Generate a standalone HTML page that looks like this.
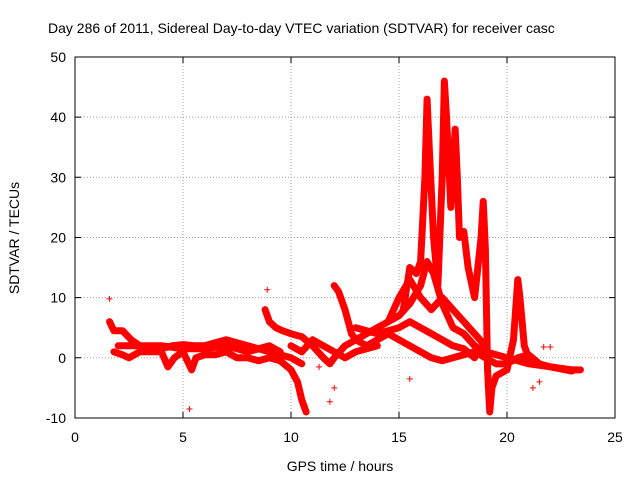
<!DOCTYPE html>
<html><head><meta charset="utf-8"><style>
body{margin:0;background:#fff}
svg{display:block;font-family:"Liberation Sans",sans-serif}
</style></head><body>
<svg id="chart" width="640" height="480">
<text x="48" y="33" font-size="14">Day 286 of 2011, Sidereal Day-to-day VTEC variation (SDTVAR) for receiver casc</text>
<g id="grid"></g>
<g id="marks"></g>
<rect x="75" y="57" width="540" height="361" fill="none" stroke="#000"/>
<g id="axes"></g>
<text x="340" y="471" font-size="14" text-anchor="middle">GPS time / hours</text>
<text transform="translate(19,238) rotate(-90)" font-size="14" text-anchor="middle">SDTVAR / TECUs</text>
</svg>
<script>
const xTicks=[0,5,10,15,20,25];
const yTicks=[-10,0,10,20,30,40,50];
const s1=[[1.6,6],[1.8,4.5],[2.2,4.5],[2.6,3],[3,2],[3.5,1.5],[4,1.5],[4.5,2],[5,2.2],[5.5,2],[6,2],[6.5,2.5],[7,3],[7.5,2.5],[8,2],[8.5,1.5],[9,1],[9.5,0.5],[10,0],[10.5,-1]];
const s2=[[1.8,1],[2.2,0.5],[2.5,0],[3,1],[3.5,1],[4,1],[4.3,-1.5],[4.6,0],[5,1],[5.4,-2],[5.6,0],[6,0.5],[6.5,0.5],[7,1],[7.5,0],[8,0],[8.5,-0.5],[9,0],[9.5,-0.5],[10,-2],[10.3,-4],[10.5,-7],[10.7,-9]];
const s3=[[8.8,8],[9,6],[9.3,5],[9.6,4.5],[10,4],[10.5,3.5],[11,2],[11.5,0],[11.8,-1],[12,0],[12.5,2],[13,3],[13.5,4],[14,5],[14.5,6],[15,7],[15.5,9],[16,12],[16.3,16],[16.6,14],[17,9],[17.5,5],[18,4],[18.5,2],[19,1],[19.5,0.5],[20,0],[20.5,-0.5],[21,-1],[22,-1.5],[23,-2],[23.4,-2]];
const s4=[[15.2,8],[15.5,15],[15.8,14],[16,16],[16.2,30],[16.3,43],[16.4,35],[16.6,20],[16.8,12],[17,30],[17.1,46],[17.2,40],[17.4,25],[17.6,38],[17.7,30],[17.8,20],[18,21],[18.2,15],[18.5,10],[18.8,20],[18.9,26],[19,18],[19.1,-2],[19.2,-9],[19.3,-5],[19.5,-3],[20,-2],[20.3,3],[20.5,13],[20.6,10],[20.8,2],[21,0]];
const s5=[[12,12],[12.2,11],[12.5,8],[12.8,4],[13,3],[13.5,2],[14,3],[14.5,4],[15,3]];
const s6=[[15,3],[15.5,2],[16,1],[16.5,0],[17,-0.5],[17.5,0],[18,0.5],[18.5,1],[19,0],[19.5,-1],[20,-1],[20.5,0],[21,0.5],[21.5,-1],[22,-1.5],[23,-2.2]];
const s7=[[14.5,6],[15,10],[15.5,13],[16,10],[16.5,8],[17,10],[17.5,8],[18,6],[18.5,4],[19,2]];
const s8=[[13,5],[14,4],[15,5],[15.5,6],[16,5],[16.5,4],[17,3],[17.5,2],[18,1.5],[18.5,0]];
const s9=[[10,2],[10.5,1],[11,3],[11.5,2],[12,1],[12.5,0],[13,1],[14,2]];
const s10=[[2,2],[3,2],[4,2],[5,1.5],[6,1.5],[7,2],[8,1],[9,2],[9.5,1]];
const outliers=[[1.6,9.8],[5.3,-8.5],[8.9,11.3],[11.8,-7.3],[11.3,-1.5],[12,-5],[15.5,-3.5],[21.5,-4],[21.2,-5],[22,1.8],[21.7,1.8]];
const X=v=>75+v*21.6, Y=v=>357.8-v*6.017;
const NS="http://www.w3.org/2000/svg";
const grid=document.getElementById('grid'), axes=document.getElementById('axes'), marks=document.getElementById('marks');
function mk(tag,attrs,parent){const e=document.createElementNS(NS,tag);for(const k in attrs)e.setAttribute(k,attrs[k]);parent.appendChild(e);return e;}
xTicks.forEach(t=>{
  if(t>0&&t<25){const l=mk('line',{x1:X(t),x2:X(t),y1:57,y2:418,stroke:'#a0a0a0','stroke-dasharray':'1,2'},grid);
  
  }
  const tk=mk('path',{d:`M${X(t)},418v-6M${X(t)},57v6`,stroke:'#000'},axes);
  
  
  const tx=mk('text',{x:X(t),y:442,'font-size':14,'text-anchor':'middle'},axes);tx.textContent=t;
  
  
});
yTicks.forEach(t=>{
  if(t>-10&&t<50){const l=mk('line',{x1:75,x2:615,y1:Y(t),y2:Y(t),stroke:'#a0a0a0','stroke-dasharray':'1,2'},grid);
  
  }
  const tk=mk('path',{d:`M75,${Y(t)}h6M615,${Y(t)}h-6`,stroke:'#000'},axes);
  
  
  const tx=mk('text',{x:66,y:Y(t)+5,'font-size':14,'text-anchor':'end'},axes);tx.textContent=t;
  
  
});
const tracks=[s1,s2,s3,s4,s5,s6,s7,s8,s9,s10];
tracks.forEach((s,i)=>{
  const pl=mk('polyline',{points:s.map(p=>X(p[0])+','+Y(p[1])).join(' '),fill:'none',stroke:'#ff0000','stroke-width':7,'stroke-linejoin':'round','stroke-linecap':'round'},marks);
  
  
});
tracks.concat([outliers]).forEach(s=>s.forEach(p=>{
  const m=mk('path',{d:`M${X(p[0])-3},${Y(p[1])}h6M${X(p[0])},${Y(p[1])-3}v6`,stroke:'#ff0000','stroke-width':1},marks);
  
  
}));
</script>
</body></html>
